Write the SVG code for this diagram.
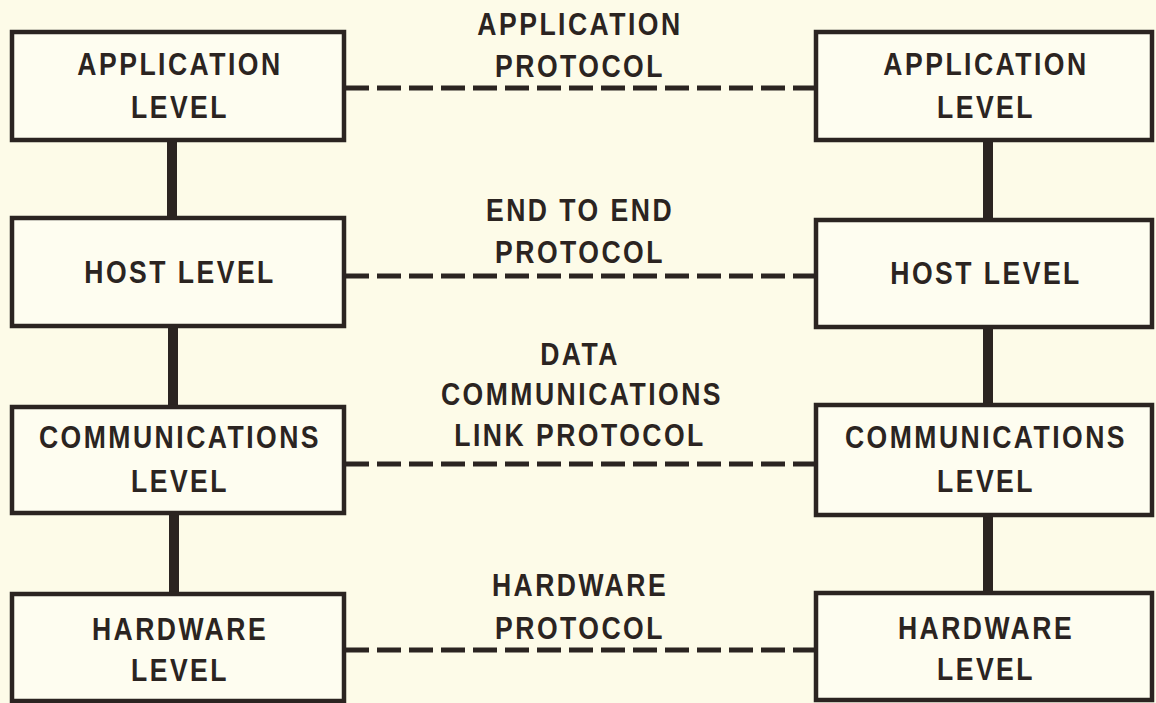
<svg xmlns="http://www.w3.org/2000/svg" width="1156" height="703" viewBox="0 0 1156 703">
  <style>
    .box { fill: #fefdf0; stroke: #2b2421; stroke-width: 4.5; }
    .stem { stroke: #2b2421; stroke-width: 10; }
    .dash { stroke: #2b2421; stroke-width: 5; stroke-dasharray: 24 8; fill: none; }
    text { font-family: "Liberation Sans", Arial, sans-serif; font-weight: bold; font-size: 32px; fill: #2b2421; text-anchor: middle; letter-spacing: 3px; }
  </style>
  <rect width="1156" height="703" fill="#fdfbe8"/>
  <g id="connectors">
    <line class="stem" x1="172" y1="140" x2="172" y2="218"/>
    <line class="stem" x1="173" y1="326" x2="173" y2="406"/>
    <line class="stem" x1="174" y1="513" x2="174" y2="594"/>
    <line class="stem" x1="988" y1="140" x2="988" y2="220"/>
    <line class="stem" x1="988" y1="327" x2="988" y2="405"/>
    <line class="stem" x1="988" y1="515" x2="988" y2="593"/>
    <line class="dash" x1="345" y1="88" x2="816" y2="88"/>
    <line class="dash" x1="345" y1="276" x2="816" y2="276"/>
    <line class="dash" x1="345" y1="464" x2="816" y2="464"/>
    <line class="dash" x1="345" y1="650" x2="816" y2="650"/>
  </g>
  <g id="app-left">
    <rect class="box" x="12" y="32" width="332" height="108"/>
    <text transform="translate(180 75) scale(0.83 1)">APPLICATION</text>
    <text transform="translate(180 118) scale(0.83 1)">LEVEL</text>
  </g>
  <g id="app-right">
    <rect class="box" x="816" y="32" width="336" height="108"/>
    <text transform="translate(986 75) scale(0.83 1)">APPLICATION</text>
    <text transform="translate(986 118) scale(0.83 1)">LEVEL</text>
  </g>
  <g id="host-left">
    <rect class="box" x="12" y="218" width="332" height="108"/>
    <text transform="translate(180 283) scale(0.83 1)">HOST LEVEL</text>
  </g>
  <g id="host-right">
    <rect class="box" x="816" y="220" width="336" height="107"/>
    <text transform="translate(986 284) scale(0.83 1)">HOST LEVEL</text>
  </g>
  <g id="comm-left">
    <rect class="box" x="12" y="407" width="332" height="106"/>
    <text transform="translate(180 448) scale(0.83 1)">COMMUNICATIONS</text>
    <text transform="translate(180 492) scale(0.83 1)">LEVEL</text>
  </g>
  <g id="comm-right">
    <rect class="box" x="816" y="405" width="336" height="110"/>
    <text transform="translate(986 448) scale(0.83 1)">COMMUNICATIONS</text>
    <text transform="translate(986 492) scale(0.83 1)">LEVEL</text>
  </g>
  <g id="hw-left">
    <rect class="box" x="12" y="594" width="332" height="107"/>
    <text transform="translate(180 640) scale(0.83 1)">HARDWARE</text>
    <text transform="translate(180 681) scale(0.83 1)">LEVEL</text>
  </g>
  <g id="hw-right">
    <rect class="box" x="816" y="593" width="336" height="107"/>
    <text transform="translate(986 639) scale(0.83 1)">HARDWARE</text>
    <text transform="translate(986 680) scale(0.83 1)">LEVEL</text>
  </g>
  <g id="label-app">
    <text transform="translate(580 35) scale(0.83 1)">APPLICATION</text>
    <text transform="translate(580 77) scale(0.83 1)">PROTOCOL</text>
  </g>
  <g id="label-e2e">
    <text transform="translate(580 221) scale(0.83 1)">END TO END</text>
    <text transform="translate(580 263) scale(0.83 1)">PROTOCOL</text>
  </g>
  <g id="label-data">
    <text transform="translate(580 365) scale(0.83 1)">DATA</text>
    <text transform="translate(582 405) scale(0.83 1)">COMMUNICATIONS</text>
    <text transform="translate(580 446) scale(0.83 1)">LINK PROTOCOL</text>
  </g>
  <g id="label-hw">
    <text transform="translate(580 596) scale(0.83 1)">HARDWARE</text>
    <text transform="translate(580 639) scale(0.83 1)">PROTOCOL</text>
  </g>
</svg>
